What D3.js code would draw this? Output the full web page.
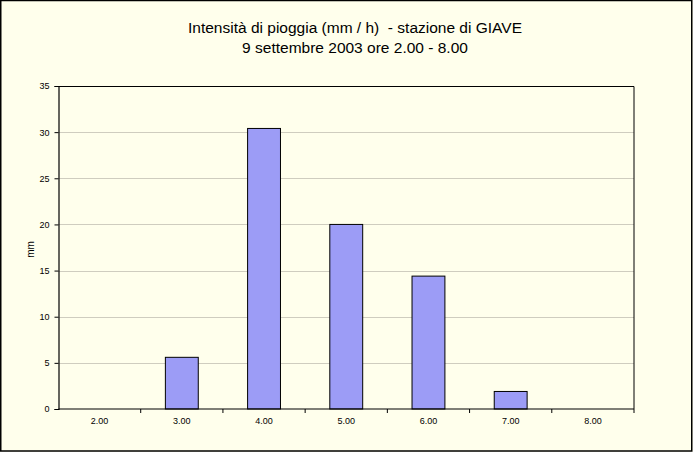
<!DOCTYPE html>
<html>
<head>
<meta charset="utf-8">
<script src="https://cdn.jsdelivr.net/npm/d3@7"></script>
<style>
  body { margin: 0; background: #fff; }
  svg { display: block; font-family: "Liberation Sans", Arial, sans-serif; }
</style>
</head>
<body>
<div id="chart"></div>
<script>
// rain intensity per hour
const hours = ["2.00", "3.00", "4.00", "5.00", "6.00", "7.00", "8.00"];
const rainMm = [0, 5.6, 30.4, 20.0, 14.4, 1.9, 0];
const yTicks = [0, 5, 10, 15, 20, 25, 30, 35];
const titleLines = ["Intensità di pioggia (mm / h)  - stazione di GIAVE", "9 settembre 2003 ore 2.00 - 8.00"];

const W = 693, H = 452;
const margin = { top: 86, right: 59, bottom: 43, left: 58.5 };
const width = W - margin.left - margin.right,
      height = H - margin.top - margin.bottom;

const root = d3.select("#chart").append("svg")
    .attr("width", W)
    .attr("height", H);

// page background and outer frame
root.append("rect")
    .attr("x", 0).attr("y", 0)
    .attr("width", W).attr("height", H)
    .attr("fill", "#ffffec");
root.append("rect")
    .attr("x", 0.75).attr("y", 0.5)
    .attr("width", W - 2).attr("height", H - 1.5)
    .attr("fill", "none")
    .attr("stroke", "#000")
    .attr("stroke-width", 1.5);

// title
root.append("text")
    .attr("x", 355)
    .attr("text-anchor", "middle")
    .style("font-size", "15.5px")
    .style("white-space", "pre")
    .attr("fill", "#000")
    .selectAll("tspan")
    .data(titleLines)
    .enter().append("tspan")
    .attr("x", 355)
    .attr("y", (d, i) => 33 + i * 20)
    .text(d => d);

const svg = root.append("g")
    .attr("transform", `translate(${margin.left},${margin.top})`);

const x = d3.scaleBand().domain(hours).range([0, width]).padding(0);
const y = d3.scaleLinear().domain([0, 35]).range([height, 0]);

// gridlines
svg.selectAll(".grid")
    .data(yTicks.filter(t => t > 0 && t < 35))
    .enter().append("line")
    .attr("class", "grid")
    .attr("x1", 0).attr("x2", width)
    .attr("y1", d => Math.round(y(d)) + 0.5)
    .attr("y2", d => Math.round(y(d)) + 0.5)
    .attr("stroke", "#cfcdbf")
    .attr("stroke-width", 1);

// bars
const barW = x.bandwidth() * 0.4;
svg.selectAll(".bar")
    .data(hours.map((h, i) => ({ hour: h, value: rainMm[i] })).filter(d => d.value > 0))
    .enter().append("rect")
    .attr("class", "bar")
    .attr("x", d => x(d.hour) + (x.bandwidth() - barW) / 2)
    .attr("y", d => y(d.value))
    .attr("width", barW)
    .attr("height", d => height - y(d.value))
    .attr("fill", "#9c9cf6")
    .attr("stroke", "#000")
    .attr("stroke-width", 1);

// plot frame (top and right edges)
svg.append("path")
    .attr("d", `M0,0.5H${width}V${height}`)
    .attr("fill", "none")
    .attr("stroke", "#000")
    .attr("stroke-width", 1);

// y axis
const yAxis = svg.append("g")
    .call(d3.axisLeft(y).tickValues(yTicks).tickSize(4).tickPadding(5).tickFormat(d3.format("d")));
yAxis.select(".domain").attr("stroke-width", 1.2);
yAxis.selectAll("text").style("font-size", "9px").attr("fill", "#000");

// x axis: ticks at band boundaries, labels at band centres
const xAxis = svg.append("g")
    .attr("transform", `translate(0,${height})`)
    .call(d3.axisBottom(x).tickSize(0).tickPadding(9));
xAxis.select(".domain").attr("d", `M0,0H${width}`).attr("stroke-width", 1.2);
xAxis.selectAll("text").style("font-size", "9px").attr("fill", "#000");
xAxis.selectAll(".sep")
    .data(hours.slice(1).concat(["end"]))
    .enter().append("line")
    .attr("class", "sep")
    .attr("x1", d => d === "end" ? width : x(d))
    .attr("x2", d => d === "end" ? width : x(d))
    .attr("y1", 0).attr("y2", 4)
    .attr("stroke", "#000");

// y axis title
svg.append("text")
    .attr("transform", `translate(${-25},${y(17.5) + 2}) rotate(-90)`)
    .attr("text-anchor", "middle")
    .style("font-size", "10px")
    .attr("fill", "#000")
    .text("mm");
</script>
</body>
</html>
